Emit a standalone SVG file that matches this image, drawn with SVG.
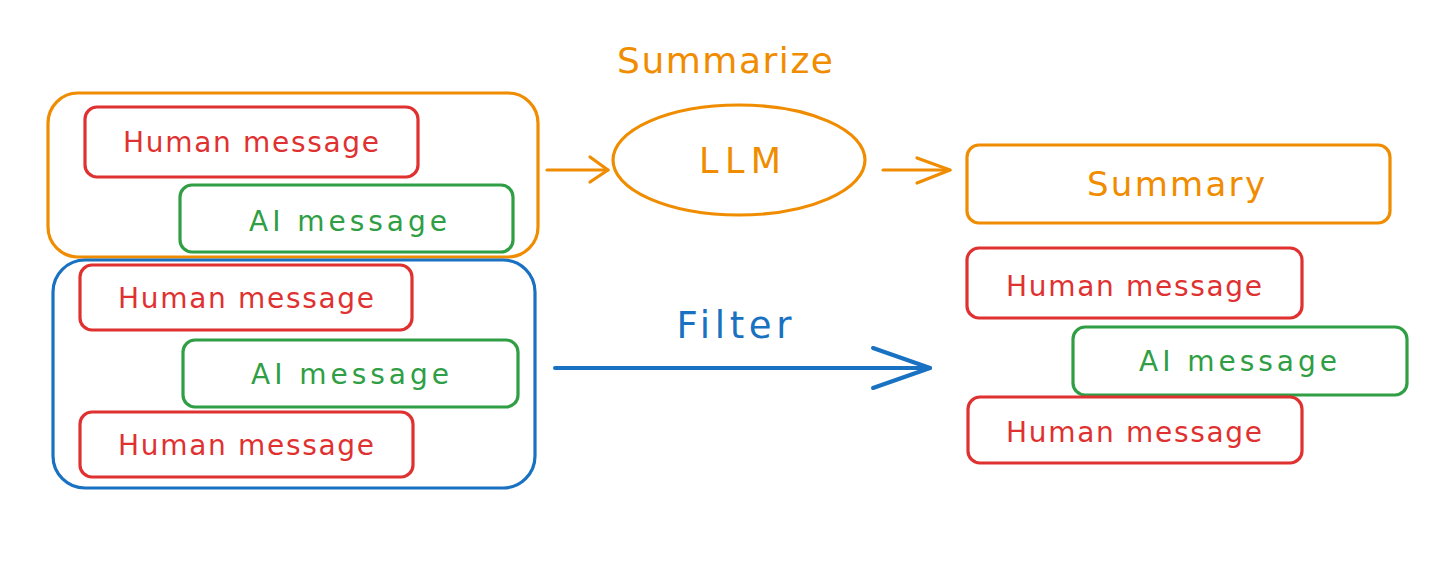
<svg xmlns="http://www.w3.org/2000/svg" width="1444" height="574" viewBox="0 0 1444 574">
  <defs>
    <style>
      .box { fill: none; stroke-width: 3.2; stroke-linejoin: round; }
      .orange { stroke: #f08c00; }
      .red { stroke: #e03131; }
      .green { stroke: #2f9e44; }
      .blue { stroke: #1971c2; }
      .txt { font-family: "DejaVu Sans", "Noto Sans", sans-serif; text-anchor: middle; }
      .t-red { fill: #e03131; font-size: 28px; }
      .t-green { fill: #2f9e44; font-size: 28px; }
      .t-orange { fill: #f08c00; }
      .t-blue { fill: #1971c2; }
      .conn { fill: none; stroke-linecap: round; stroke-linejoin: round; }
    </style>
  </defs>
  <rect width="1444" height="574" fill="#ffffff"/>

  <!-- Containers -->
  <g id="summarize-group">
    <rect class="box orange" x="48" y="93" width="490" height="164" rx="30"/>
  </g>
  <g id="filter-group">
    <rect class="box blue" x="53" y="260" width="482" height="228" rx="32"/>
  </g>

  <!-- Left messages -->
  <g id="left-human-1">
    <rect class="box red" x="85" y="107" width="333" height="70" rx="12"/>
    <text class="txt t-red" x="251" y="152" textLength="256" lengthAdjust="spacing">Human message</text>
  </g>
  <g id="left-ai-1">
    <rect class="box green" x="180" y="185" width="333" height="67" rx="12"/>
    <text class="txt t-green" x="348" y="231" textLength="198" lengthAdjust="spacing">AI message</text>
  </g>
  <g id="left-human-2">
    <rect class="box red" x="80" y="265" width="332" height="65" rx="12"/>
    <text class="txt t-red" x="246" y="308" textLength="256" lengthAdjust="spacing">Human message</text>
  </g>
  <g id="left-ai-2">
    <rect class="box green" x="183" y="340" width="335" height="67" rx="12"/>
    <text class="txt t-green" x="350" y="384" textLength="198" lengthAdjust="spacing">AI message</text>
  </g>
  <g id="left-human-3">
    <rect class="box red" x="80" y="412" width="333" height="65" rx="12"/>
    <text class="txt t-red" x="246" y="455" textLength="256" lengthAdjust="spacing">Human message</text>
  </g>

  <!-- LLM -->
  <g id="llm">
    <ellipse class="box orange" cx="739" cy="160" rx="126" ry="55"/>
    <text class="txt t-orange" x="740" y="173" font-size="35" textLength="82" lengthAdjust="spacing">LLM</text>
  </g>

  <!-- Right side -->
  <g id="summary">
    <rect class="box orange" x="967" y="145" width="423" height="78" rx="12"/>
    <text class="txt t-orange" x="1176" y="196" font-size="34" textLength="178" lengthAdjust="spacing">Summary</text>
  </g>
  <g id="right-human-1">
    <rect class="box red" x="967" y="248" width="335" height="70" rx="12"/>
    <text class="txt t-red" x="1134" y="296" textLength="256" lengthAdjust="spacing">Human message</text>
  </g>
  <g id="right-ai">
    <rect class="box green" x="1073" y="327" width="334" height="68" rx="12"/>
    <text class="txt t-green" x="1238" y="371" textLength="198" lengthAdjust="spacing">AI message</text>
  </g>
  <g id="right-human-2">
    <rect class="box red" x="968" y="397" width="334" height="66" rx="12"/>
    <text class="txt t-red" x="1134" y="442" textLength="256" lengthAdjust="spacing">Human message</text>
  </g>

  <!-- Connectors -->
  <g id="connectors">
    <g class="conn orange" stroke-width="3.2">
      <path d="M547 170 L608 170"/>
      <path d="M590 157 L608 170 L590 182"/>
      <path d="M883 170 L950 170"/>
      <path d="M917 158 L950 170 L917 183"/>
    </g>
    <g class="conn blue" stroke-width="4">
      <path d="M555 368 L930 368"/>
      <path d="M873 348 L930 368 L873 388"/>
    </g>
    <text class="txt t-orange" x="725" y="73" font-size="36" textLength="216" lengthAdjust="spacing">Summarize</text>
    <text class="txt t-blue" x="734" y="338" font-size="37" textLength="115" lengthAdjust="spacing">Filter</text>
  </g>
</svg>
